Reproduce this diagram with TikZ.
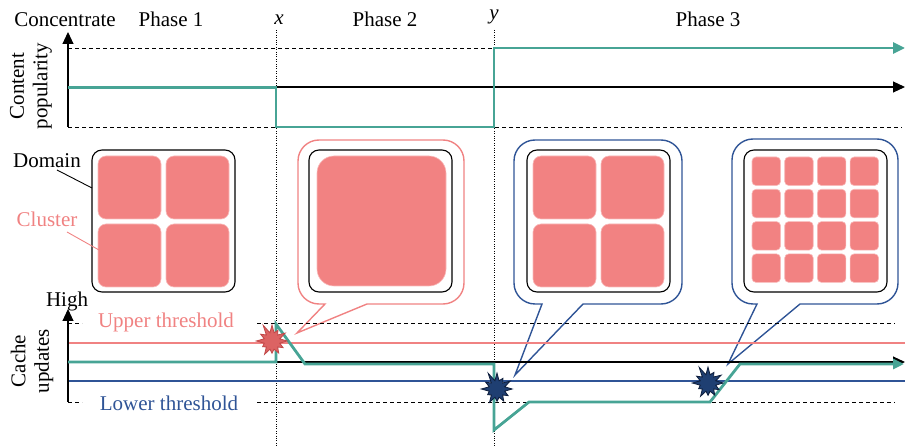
\documentclass[tikz,border=0pt]{standalone}
\usepackage{fontspec}
\setmainfont{Liberation Serif}
\usetikzlibrary{arrows.meta,shapes.symbols}
\definecolor{tealc}{HTML}{47A495}
\definecolor{pinkc}{HTML}{F28282}
\definecolor{pinkl}{HTML}{F08282}
\definecolor{bluel}{HTML}{2F5496}
\definecolor{navyc}{HTML}{1F3F72}
\definecolor{navyd}{HTML}{0E1E3C}
\definecolor{redd}{HTML}{C04848}
\tikzset{
  lbl/.style={font=\fontsize{21}{23.5}\selectfont, inner sep=0pt},
  axisarrow/.style={line width=1.1pt, -{Triangle[length=12pt,width=11pt]}},
  dashline/.style={line width=0.8pt, dash pattern=on 4pt off 3pt},
  vdot/.style={line width=0.7pt, dash pattern=on 0.8pt off 1.6pt},
  tealline/.style={tealc, line width=2.8pt, line join=miter, miter limit=20},
  domainbox/.style={draw=black, line width=1.1pt, rounded corners=10pt},
  clusterbox/.style={fill=pinkc, draw=pinkc!55!white, line width=0.6pt},
  callout/.style={line width=1.4pt, line join=miter},
  burst/.style={starburst, starburst points=12, starburst point height=10pt,
    minimum width=36pt, minimum height=37pt, inner sep=0pt, line width=0.8pt, random starburst=11}
}
% callout outline: #1 style, #2 L, #3 T, #4 R, #5 B, #6 base left, #7 base right, #8 tip
\newcommand{\calloutshape}[8]{%
  \draw[callout, #1] (#6,#5) -- #8 -- (#7,#5) -- ({#4-21},#5)
    arc[start angle=90, end angle=0, radius=21] -- (#4,{#3+21})
    arc[start angle=0, end angle=-90, radius=21] -- ({#2+21},#3)
    arc[start angle=270, end angle=180, radius=21] -- (#2,{#5-21})
    arc[start angle=180, end angle=90, radius=21] -- cycle;}
\begin{document}
\begin{tikzpicture}[x=1pt,y=-1pt]
\useasboundingbox (0,0) rectangle (914,446);

% ---------- vertical dotted phase markers ----------
\coordinate (xtop) at (276,30);
\coordinate (xbot) at (276,446);
\coordinate (ytop) at (494,30);
\coordinate (ybot) at (494,446);
\draw[vdot] (xtop) -- (xbot);
\draw[vdot] (ytop) -- (ybot);

% ---------- top labels ----------
\node[lbl, anchor=base] (conc) at (65,27) {Concentrate};
\node[lbl, anchor=base] (ph1) at (171,27) {Phase 1};
\node[lbl, anchor=base] (xl) at (279,25) {\itshape x};
\node[lbl, anchor=base] (ph2) at (385,27) {Phase 2};
\node[lbl, anchor=base] (yl) at (494,20) {\itshape y};
\node[lbl, anchor=base] (ph3) at (708,27) {Phase 3};
\node[lbl, rotate=90, align=center] (cpop) at (31,86) {Content\\popularity};

% ---------- top chart ----------
\coordinate (t0) at (68,127);
\coordinate (t1) at (68,32);
\coordinate (m0) at (68,87);
\coordinate (m1) at (905,87);
\draw[dashline] (68,48) -- (902,48);
\draw[dashline] (68,127) -- (902,127);
\draw[axisarrow] (t0) -- (t1);
\draw[axisarrow] (m0) -- (m1);
\draw[tealline, -{Triangle[length=12pt,width=11pt]}] (68,87.5) -- (276,87.5) -- (276,127) -- (494,127) -- (494,48) -- (905,48);

% ---------- callouts ----------
\coordinate (tipA) at (297,333);
\coordinate (tipB) at (515,375);
\coordinate (tipC) at (728,364);
\calloutshape{draw=pinkl}{298}{140}{464}{304}{325}{367}{(tipA)}
\calloutshape{draw=bluel}{514}{140}{682}{304}{542}{583}{(tipB)}
\calloutshape{draw=bluel}{732}{139}{898}{304}{757}{800}{(tipC)}

% ---------- domains ----------
% phase 1
\draw[domainbox] (92,150) rectangle (235,292);
\foreach \i in {0,1} \foreach \j in {0,1}
  \draw[clusterbox, rounded corners=8pt] ({98+\i*68},{156+\j*68}) rectangle ++(63,63);
% phase 2
\draw[domainbox] (309,150) rectangle (452,292);
\draw[clusterbox, rounded corners=17pt] (317,156) rectangle (446,286);
% phase 3a
\draw[domainbox] (527,150) rectangle (670,292);
\foreach \i in {0,1} \foreach \j in {0,1}
  \draw[clusterbox, rounded corners=8pt] ({533+\i*68},{156+\j*68}) rectangle ++(63,63);
% phase 3b
\draw[domainbox] (744,150) rectangle (887,292);
\foreach \i in {0,1,2,3} \foreach \j in {0,1,2,3}
  \draw[clusterbox, rounded corners=4pt] ({752+\i*32.7},{157+\j*32.3}) rectangle ++(28.5,28.5);

% ---------- domain / cluster labels ----------
\node[lbl, anchor=base] (dom) at (47,168) {Domain};
\node[lbl, anchor=base, text=pinkl] (clu) at (47,227) {Cluster};
\coordinate (domA) at (57,170);
\coordinate (domB) at (92,188);
\coordinate (cluA) at (67,232);
\coordinate (cluB) at (99,250);
\draw[line width=0.9pt] (domA) -- (domB);
\draw[pinkl, line width=0.9pt] (cluA) -- (cluB);

% ---------- bottom chart ----------
\node[lbl, anchor=base] (high) at (67,307) {High};
\node[lbl, rotate=90, align=center] (cupd) at (32,361) {Cache\\updates};
\draw[dashline] (68,323) -- (82,323);
\draw[dashline] (257,323) -- (895,323);
\draw[dashline] (68,402) -- (82,402);
\draw[dashline] (257,402) -- (895,402);
\node[lbl, anchor=base, text=pinkl] (upth) at (166,328) {Upper threshold};
\node[lbl, anchor=base, text=bluel] (loth) at (169,411) {Lower threshold};
\draw[pinkl, line width=1.8pt] (68,343) -- (905,343);
\draw[bluel, line width=1.8pt] (68,381) -- (905,381);
\coordinate (b0) at (68,402);
\coordinate (b1) at (68,309);
\coordinate (bm0) at (68,362);
\coordinate (bm1) at (905,362);
\draw[axisarrow] (b0) -- (b1);
\draw[axisarrow] (bm0) -- (bm1);
\draw[tealline, -{Triangle[length=11pt,width=10pt]}] (68,362) -- (276,362) -- (276,324) -- (305,364) -- (494,364) -- (494,430) -- (529,402) -- (710,402) -- (740,364) -- (904,364);

% ---------- bursts ----------
\node[burst, fill=pinkc!85!red!90!black, draw=redd] (s1) at (272,341) {};
\node[burst, fill=navyc, draw=navyd] (s2) at (497,389) {};
\node[burst, fill=navyc, draw=navyd] (s3) at (708,383) {};
\end{tikzpicture}
\end{document}
